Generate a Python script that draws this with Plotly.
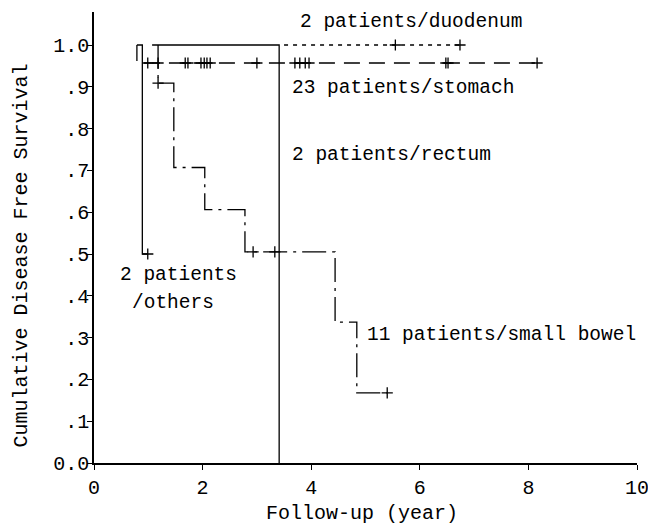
import plotly.graph_objects as go

# ---- data (years, cumulative disease-free survival) ----
stomach_x = [0.79, 8.16]
stomach_y = [1.0, 0.957]
stomach_cens_x = [0.99, 1.18, 1.68, 1.73, 1.97, 2.03, 2.08, 2.14, 3.00, 3.70, 3.79, 3.89, 3.96, 6.48, 6.52, 8.16]
stomach_cens_y = [0.957] * len(stomach_cens_x)

duodenum_x = [3.50, 6.74]
duodenum_y = [1.0, 1.0]
duodenum_cens_x = [5.55, 6.74]
duodenum_cens_y = [1.0, 1.0]

rectum_x = [1.07, 3.41]
rectum_y = [1.0, 0.0]

others_x = [0.79, 0.89, 0.99]
others_y = [1.0, 0.5, 0.5]
others_cens_x = [0.99]
others_cens_y = [0.5]

bowel_x = [1.18, 1.18, 1.47, 2.04, 2.78, 4.44, 4.84, 5.40]
bowel_y = [1.0, 0.909, 0.707, 0.606, 0.505, 0.337, 0.168, 0.168]
bowel_cens_x = [1.18, 2.93, 3.33, 5.40]
bowel_cens_y = [0.909, 0.505, 0.505, 0.168]

x_ticks = [0, 2, 4, 6, 8, 10]
y_ticks = [0, 0.1, 0.2, 0.3, 0.4, 0.5, 0.6, 0.7, 0.8, 0.9, 1.0]
y_tick_text = ["0.0", ".1", ".2", ".3", ".4", ".5", ".6", ".7", ".8", ".9", "1.0"]

FONT = "Liberation Mono"
LW = 1.3
FS = 19.5

fig = go.Figure()

def step(x, y, shape, dash):
    fig.add_trace(go.Scatter(x=x, y=y, mode="lines", line_shape=shape,
                             line=dict(color="black", width=LW, dash=dash),
                             hoverinfo="skip", showlegend=False))

def cens(x, y):
    fig.add_trace(go.Scatter(x=x, y=y, mode="markers",
                             marker=dict(symbol="cross-thin", size=8,
                                         line=dict(color="black", width=LW)),
                             hoverinfo="skip", showlegend=False))

step(stomach_x, stomach_y, "vh", "16px,9px")
cens(stomach_cens_x, stomach_cens_y)
step(duodenum_x, duodenum_y, "hv", "4px,5px")
cens(duodenum_cens_x, duodenum_cens_y)
step(rectum_x, rectum_y, "hv", "solid")
step(others_x, others_y, "hv", "solid")
cens(others_cens_x, others_cens_y)
step(bowel_x, bowel_y, "hv", "24px,6px,3px,6px")
cens(bowel_cens_x, bowel_cens_y)

labels = [
    ("2 patients/duodenum", 3.76, 1.055),
    ("23 patients/stomach", 3.61, 0.897),
    ("2 patients/rectum", 3.61, 0.737),
    ("2 patients", 0.44, 0.45),
    ("/others", 0.66, 0.383),
    ("11 patients/small bowel", 4.99, 0.306),
]
for txt, x, y in labels:
    fig.add_annotation(x=x, y=y, text=txt, showarrow=False, xanchor="left",
                       yanchor="middle", font=dict(family=FONT, size=FS, color="black"))

fig.add_annotation(x=0.4936, y=-0.111, xref="paper", yref="paper", text="Follow-up (year)",
                   showarrow=False, xanchor="center", yanchor="middle",
                   font=dict(family=FONT, size=20, color="black"))
fig.add_annotation(x=-0.1326, y=0.46, xref="paper", yref="paper",
                   text="Cumulative Disease Free Survival", textangle=-90,
                   showarrow=False, xanchor="center", yanchor="middle",
                   font=dict(family=FONT, size=20, color="black"))

fig.update_layout(
    width=648, height=532,
    margin=dict(l=94, r=11, t=12, b=69, autoexpand=False),
    paper_bgcolor="white", plot_bgcolor="white",
    font=dict(family=FONT, size=20, color="black"),
    xaxis=dict(range=[0, 10], tickvals=x_ticks, ticks="outside", ticklen=5,
               tickwidth=1.3, tickcolor="black", showline=True, linecolor="black",
               linewidth=1.5, showgrid=False, zeroline=False,
               automargin=False, ticklabeloverflow="allow",
               tickfont=dict(family=FONT, size=20)),
    yaxis=dict(range=[0, 1.079], tickvals=y_ticks, ticktext=y_tick_text,
               ticks="outside", ticklen=5, tickwidth=1.3, tickcolor="black",
               showline=True, linecolor="black", linewidth=1.5, showgrid=False,
               zeroline=False, ticklabelstandoff=-6, automargin=False,
               tickfont=dict(family=FONT, size=20)),
)

fig.write_html("out.html", config={"displayModeBar": False},
               post_script="document.body.style.margin='0';document.body.style.overflow='hidden';")
